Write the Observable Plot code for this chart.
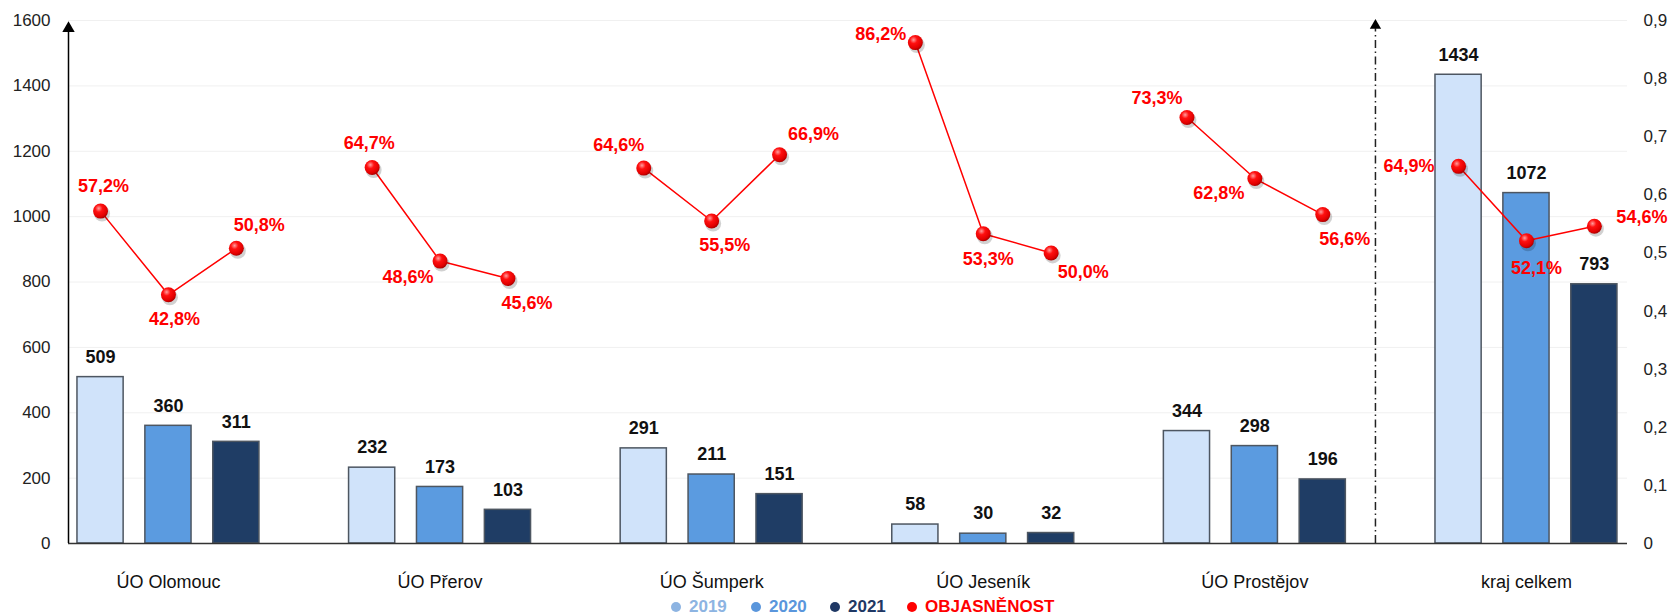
<!DOCTYPE html>
<html>
<head>
<meta charset="utf-8">
<script src="https://cdn.jsdelivr.net/npm/d3@7"></script>
<script src="https://cdn.jsdelivr.net/npm/@observablehq/plot@0.6"></script>
<style>
  body { margin: 0; background: #fff; font-family: "Liberation Sans", Arial, sans-serif; }
  #chart svg { display: block; }
  .legend { position: relative; height: 24px; line-height: 24px; font-weight: bold; font-size: 17px; white-space: nowrap; }
  .legend span.item { position: absolute; top: 0; display: inline-flex; align-items: center; }
  .legend i { display: inline-block; width: 10px; height: 10px; border-radius: 50%; margin-right: 8px; }
</style>
</head>
<body>
<div id="chart"></div>
<div class="legend" id="legend"></div>
<script>
// ---- data ----
const groups = ["ÚO Olomouc", "ÚO Přerov", "ÚO Šumperk", "ÚO Jeseník", "ÚO Prostějov", "kraj celkem"];
const years = ["2019", "2020", "2021"];
const counts2019 = [509, 232, 291, 58, 344, 1434];
const counts2020 = [360, 173, 211, 30, 298, 1072];
const counts2021 = [311, 103, 151, 32, 196, 793];
const rate2019 = [0.572, 0.647, 0.646, 0.862, 0.733, 0.649];
const rate2020 = [0.428, 0.486, 0.555, 0.533, 0.628, 0.521];
const rate2021 = [0.508, 0.456, 0.669, 0.500, 0.566, 0.546];
const leftTicks = [0, 200, 400, 600, 800, 1000, 1200, 1400, 1600];
const rightTicks = [0, 0.1, 0.2, 0.3, 0.4, 0.5, 0.6, 0.7, 0.8, 0.9];
const legendLabels = ["2019", "2020", "2021", "OBJASNĚNOST"];

// ---- layout / style ----
const W = 1673, H = 595;
const yMax = 1600, rateMax = 0.9, factor = yMax / rateMax;
const yearStep = 0.25, barHalf = 0.085;
const xDomain = [-0.368, 5.372];
const separatorSlot = 4.444;
const barFills = ["#d0e3fa", "#5b9be0", "#1f3d65"];
const legendColors = ["#8db4e2", "#5a96dc", "#1f3864", "#ff0000"];
// per-label pixel offsets [dx, dy, anchor] for the percentage labels (group-major, year-minor)
const rateLabelOffsets = [
  [3, -25, "middle"], [6, 24, "middle"], [23, -23, "middle"],
  [-3, -24, "middle"], [-32, 16, "middle"], [19, 25, "middle"],
  [-25, -23, "middle"], [13, 24, "middle"], [34, -21, "middle"],
  [-9, -8, "end"], [5, 25, "middle"], [32, 19, "middle"],
  [-30, -19, "middle"], [-36, 15, "middle"], [22, 25, "middle"],
  [-24, 0, "end"], [10, 27, "middle"], [22, -9, "start"]
];

const countsByYear = [counts2019, counts2020, counts2021];
const ratesByYear = [rate2019, rate2020, rate2021];
const rows = [];
groups.forEach((g, gi) => {
  years.forEach((yr, yi) => {
    rows.push({group: g, gi, year: yr, yi, count: countsByYear[yi][gi], rate: ratesByYear[yi][gi],
               slot: gi + (yi - 1) * yearStep});
  });
});

const fmtPct = r => (r * 100).toFixed(1).replace(".", ",") + "%";
const fmtRate = v => { const r = Math.round(v / factor * 10) / 10; return r === 0 ? "0" : String(r).replace(".", ","); };

const rateLabelMarks = rows.map((d, i) => Plot.text([d], {
  x: "slot", y: r => r.rate * factor, text: r => fmtPct(r.rate),
  dx: rateLabelOffsets[i][0], dy: rateLabelOffsets[i][1], textAnchor: rateLabelOffsets[i][2],
  fill: "#ff0000", fontWeight: "bold", fontSize: 18
}));

const chart = Plot.plot({
  width: W, height: H,
  marginLeft: 68, marginRight: 46, marginTop: 20, marginBottom: 52,
  style: {fontFamily: "'Liberation Sans', Arial, sans-serif", fontSize: "17px", color: "#222", background: "#fff"},
  x: {domain: xDomain, axis: null},
  y: {domain: [0, yMax], label: null},
  color: {domain: years, range: barFills},
  marks: [
    Plot.ruleY(leftTicks.slice(1), {stroke: "#f0f0f0", strokeWidth: 1}),
    Plot.axisY(leftTicks, {anchor: "left", tickSize: 0, tickPadding: 18, label: null,
      tickFormat: d => String(d), fontSize: 17, fill: "#222"}),
    Plot.axisY(rightTicks.map(v => v * factor), {anchor: "right", tickSize: 0, tickPadding: 16, label: null,
      tickFormat: fmtRate, fontSize: 17, fill: "#222"}),
    Plot.rectY(rows, {x1: d => d.slot - barHalf, x2: d => d.slot + barHalf, y1: 0, y2: "count",
      fill: "year", stroke: "#4d5661", strokeWidth: 1.5}),
    Plot.text(rows, {x: "slot", y: "count", text: d => String(d.count), dy: -20,
      fontWeight: "bold", fontSize: 18, fill: "#111"}),
    Plot.ruleY([0], {stroke: "#333", strokeWidth: 1.5}),
    Plot.ruleX([xDomain[0]], {y1: 0, y2: yMax - 30, stroke: "#000", strokeWidth: 1.5}),
    Plot.dot([xDomain[0]], {x: d => d, y: yMax, symbol: "triangle", r: 4.6, fill: "#000", stroke: "none", dy: 8}),
    Plot.ruleX([separatorSlot], {y1: 0, y2: yMax - 25, stroke: "#222", strokeWidth: 1.5, strokeDasharray: "8,3.5,1.5,3.5"}),
    Plot.dot([separatorSlot], {x: d => d, y: yMax, symbol: "triangle", r: 4.2, fill: "#000", stroke: "none", dy: 5}),
    Plot.line(rows, {x: "slot", y: d => d.rate * factor, z: "group", stroke: "#ff0000", strokeWidth: 1.5}),
    Plot.dot(rows, {x: "slot", y: d => d.rate * factor, r: 8, fill: "#000", fillOpacity: 0.18, stroke: "none", dx: 1.5, dy: 2.5}),
    Plot.dot(rows, {x: "slot", y: d => d.rate * factor, r: 7.5, fill: "url(#redBall)", stroke: "none"}),
    ...rateLabelMarks,
    Plot.text(groups, {x: (d, i) => i, y: 0, text: d => d, dy: 39, fontSize: 18, fill: "#111"})
  ]
});

// gradient for the glossy red balls
const svg = d3.select(chart.tagName.toLowerCase() === "svg" ? chart : chart.querySelector("svg"));
const grad = svg.insert("defs", ":first-child").append("radialGradient")
  .attr("id", "redBall").attr("cx", "38%").attr("cy", "32%").attr("r", "70%");
grad.append("stop").attr("offset", "0%").attr("stop-color", "#ff9d9d");
grad.append("stop").attr("offset", "35%").attr("stop-color", "#ff1010");
grad.append("stop").attr("offset", "80%").attr("stop-color", "#e00000");
grad.append("stop").attr("offset", "100%").attr("stop-color", "#a30000");

document.getElementById("chart").appendChild(chart);

// legend
const legendX = [671, 751, 830, 907];
const legend = d3.select("#legend");
legendLabels.forEach((lab, i) => {
  const it = legend.append("span").attr("class", "item").style("left", legendX[i] + "px").style("color", legendColors[i]);
  it.append("i").style("background", legendColors[i]);
  it.append("span").text(lab);
});
</script>
</body>
</html>
